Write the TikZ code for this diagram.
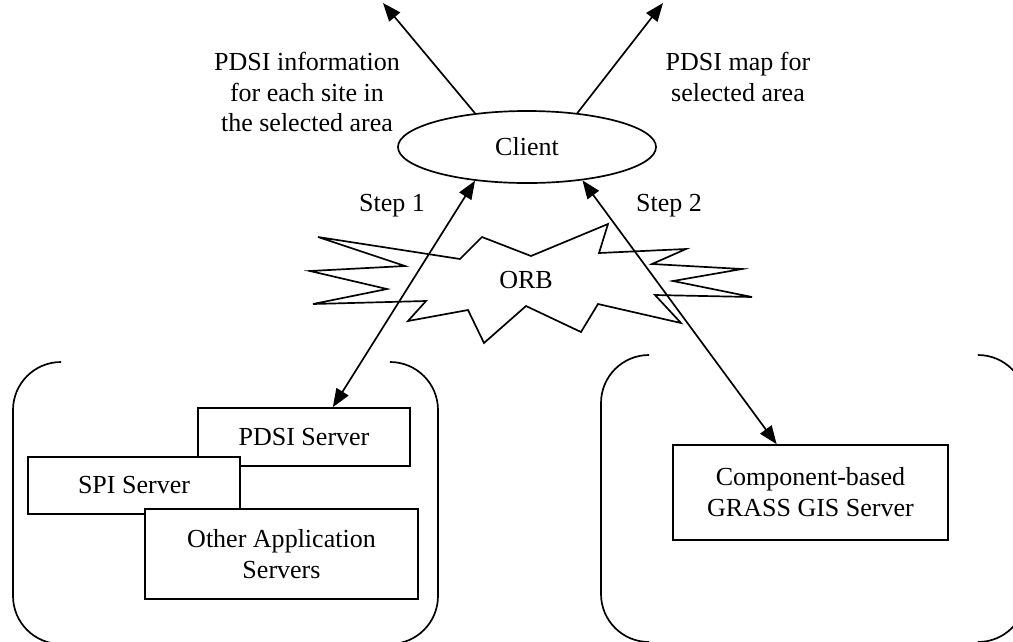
\documentclass[tikz,border=0pt]{standalone}
\usepackage{fontspec}
\setmainfont{Liberation Serif}
\usetikzlibrary{shapes.geometric,arrows.meta}

\begin{document}
\begin{tikzpicture}[x=0.025cm, y=-0.025cm, line width=1.2pt,
	every node/.style={font=\fontsize{18.5}{22}\selectfont},
	>={Triangle[length=13pt, width=10pt]},
	srv/.style={rectangle, draw, fill=white, align=center, inner sep=0pt}]
	\useasboundingbox (0,0) rectangle (1013,641);
	\clip (0,0) rectangle (1013,641);
	% client and what it gets back
	\node (client) at (527,147) [ellipse, draw, minimum width=6.45cm, minimum height=1.8cm, inner sep=0pt] {Client};
		\coordinate (info) at (383,3);
		\coordinate (map) at (663,3);
	\draw[->] (client.147) -- (info);
	\draw[->] (client.34) -- (map);
	\node (infotext) at (307,92) [align=center] {PDSI information\\for each site in\\the selected area};
	\node (maptext) at (738,77) [align=center] {PDSI map for\\selected area};
	% orb
	\draw (318,237) -- (460,259) -- (482,237) -- (531,256) -- (608,224) -- (599,253)
		-- (686,249) -- (652,264) -- (742,269) -- (673,281) -- (752,297) -- (655,295)
		-- (681,323) -- (598,304) -- (581,332) -- (526,306) -- (484,343) -- (468,310)
		-- (408,321) -- (426,301) -- (313,304) -- (387,289) -- (310,271) -- (405,266) -- cycle;
	\node (orb) at (526,280) {ORB};
	% server groups
	\draw[rounded corners=1.2cm] (61,362) -- (13,362) -- (13,644) -- (61,644);
	\draw[rounded corners=1.2cm] (390,362) -- (438,362) -- (438,644) -- (390,644);
	\draw[rounded corners=1.2cm] (649,355) -- (601,355) -- (601,642) -- (649,642);
	\draw[rounded corners=1.2cm] (978,355) -- (1026,355) -- (1026,642) -- (978,642);
	\node (pdsi) at (304,437) [srv, minimum width=5.3cm, minimum height=1.45cm] {PDSI Server};
		\node (spi) at (134,485.5) [srv, minimum width=5.3cm, minimum height=1.425cm] {SPI Server};
			\node (other) at (281.5,554) [srv, minimum width=6.825cm, minimum height=2.25cm] {Other Application\\Servers};
	\node (gis) at (810.5,492.5) [srv, minimum width=6.875cm, minimum height=2.375cm] {Component-based\\GRASS GIS Server};
	% steps
	\draw[<->] (client.213) -- (pdsi.46);
	\draw[<->] (client.329) -- (gis.125);
	\node (step1) at (392,206) {Step 1};
	\node (step2) at (669,206) {Step 2};
\end{tikzpicture}
\end{document}
